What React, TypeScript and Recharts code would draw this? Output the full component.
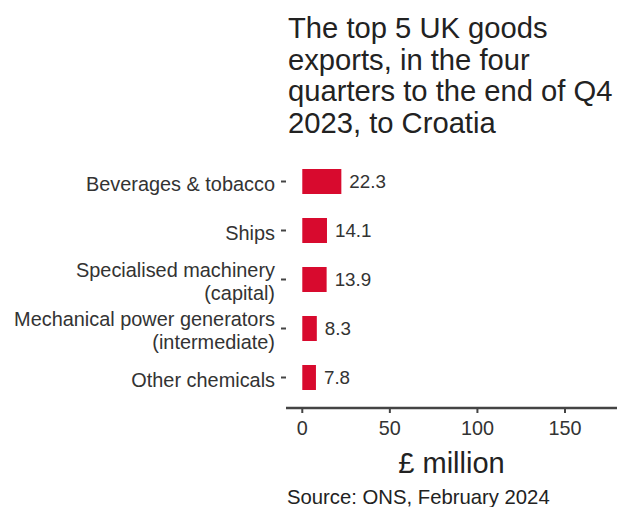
import React from 'react';
import { BarChart, Bar, XAxis, YAxis, LabelList } from 'recharts';

const categories = [
  'Beverages & tobacco',
  'Ships',
  'Specialised machinery\n(capital)',
  'Mechanical power generators\n(intermediate)',
  'Other chemicals',
];
const values = [22.3, 14.1, 13.9, 8.3, 7.8];
const xTicks = [0, 50, 100, 150];

const titleLines = [
  'The top 5 UK goods',
  'exports, in the four',
  'quarters to the end of Q4',
  '2023, to Croatia',
];
const sourceText = 'Source: ONS, February 2024';
const axisTitle = '£ million';

const data = categories.map((c, i) => ({ name: c, value: values[i] }));

const FONT = '"Liberation Sans", Arial, Helvetica, sans-serif';
const BAR_COLOR = '#d80a2e';
const TEXT = '#333333';

const YTick = (props: any) => {
  const { x, y, payload } = props;
  const lines: string[] = String(payload.value).split('\n');
  const lh = 23;
  const start = -((lines.length - 1) * lh) / 2 + 9;
  return (
    <text x={x} y={y} textAnchor="end" fill={TEXT} fontSize={19.9} fontFamily={FONT}>
      {lines.map((l, i) => (
        <tspan key={i} x={x} dy={i === 0 ? start : lh}>
          {l}
        </tspan>
      ))}
    </text>
  );
};

export default function App() {
  return (
    <div style={{ position: 'absolute', left: 0, top: 0, width: 617, height: 507, background: '#fff', fontFamily: FONT }}>
      <div
        style={{
          position: 'absolute',
          left: 288,
          top: 13,
          fontSize: 29.2,
          lineHeight: '31.5px',
          color: '#222',
          whiteSpace: 'nowrap',
        }}
      >
        {titleLines.map((t, i) => (
          <div key={i}>{t}</div>
        ))}
      </div>
      <BarChart
        width={617}
        height={507}
        data={data}
        layout="vertical"
        margin={{ top: 157, right: 0, left: 0, bottom: 34 }}
        barCategoryGap="49%"
      >
        <XAxis
          type="number"
          domain={[-9.3, 179.7]}
          ticks={xTicks}
          allowDataOverflow
          height={65}
          axisLine={{ stroke: '#444', strokeWidth: 2.5 }}
          tickLine={{ stroke: '#444', strokeWidth: 2 }}
          tickSize={5}
          tickMargin={8}
          tick={{ fill: TEXT, fontSize: 19.8, fontFamily: FONT }}
          label={{ value: axisTitle, position: 'insideBottom', offset: 0, fill: '#222', fontSize: 29, fontFamily: FONT }}
        />
        <YAxis
          type="category"
          dataKey="name"
          width={286}
          axisLine={false}
          tickLine={{ stroke: '#444', strokeWidth: 2 }}
          tickSize={5}
          tickMargin={6}
          padding={{ top: 0, bottom: 6 }}
          tick={<YTick />}
          interval={0}
        />
        <Bar dataKey="value" fill={BAR_COLOR} barSize={25} isAnimationActive={false}>
          <LabelList dataKey="value" position="right" offset={8} fill={TEXT} fontSize={18.8} fontFamily={FONT} />
        </Bar>
      </BarChart>
      <div
        style={{
          position: 'absolute',
          left: 287,
          top: 485,
          fontSize: 20.3,
          lineHeight: '24px',
          color: '#222',
          whiteSpace: 'nowrap',
        }}
      >
        {sourceText}
      </div>
    </div>
  );
}
